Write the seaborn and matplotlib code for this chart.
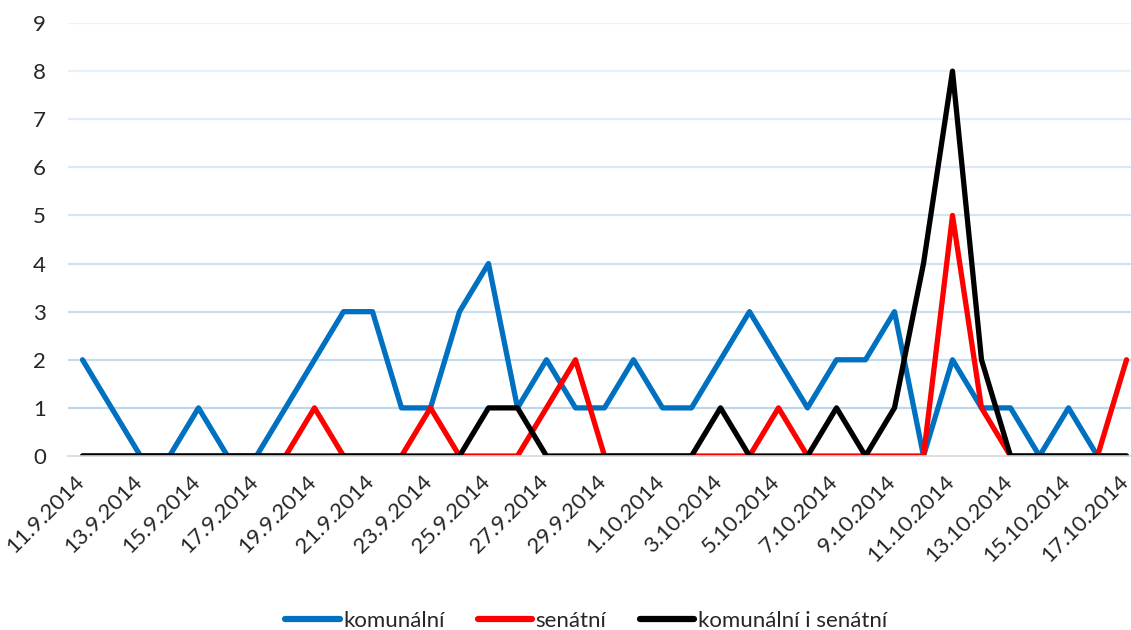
import matplotlib
matplotlib.use("Agg")

import numpy as np
import pandas as pd
import matplotlib.pyplot as plt
import matplotlib.transforms as mtransforms
import seaborn as sns
from matplotlib.ticker import FixedLocator

# ======================
# DATA
# ======================
dates = pd.date_range("2014-09-11", "2014-10-17", freq="D")
date_labels = [f"{d.day}.{d.month}.{d.year}" for d in dates]

komunalni = [2, 1, 0, 0, 1, 0, 0, 1, 2, 3, 3, 1, 1, 3, 4, 1, 2, 1, 1,
             2, 1, 1, 2, 3, 2, 1, 2, 2, 3, 0, 2, 1, 1, 0, 1, 0, 0]
senatni = [0, 0, 0, 0, 0, 0, 0, 0, 1, 0, 0, 0, 1, 0, 0, 0, 1, 2, 0,
           0, 0, 0, 0, 0, 1, 0, 0, 0, 0, 0, 5, 1, 0, 0, 0, 0, 2]
oboje = [0, 0, 0, 0, 0, 0, 0, 0, 0, 0, 0, 0, 0, 0, 1, 1, 0, 0, 0,
         0, 0, 0, 1, 0, 0, 0, 1, 0, 1, 4, 8, 2, 0, 0, 0, 0, 0]

series_names = ["komunální", "senátní", "komunální i senátní"]
colors = ["#0070C0", "#FF0000", "#000000"]

df = pd.DataFrame({
    "idx": list(range(len(dates))) * 3,
    "value": komunalni + senatni + oboje,
    "serie": [n for n in series_names for _ in dates],
})

# ======================
# PLOT
# ======================
sns.set_style("white")
plt.rcParams["font.family"] = ["Lato", "DejaVu Sans"]

fig = plt.figure(figsize=(11.31, 6.30), dpi=100)
ax = fig.add_axes([68 / 1131, 174 / 630, 1073 / 1131, 433 / 630])

# gridlines, fading toward the top
c1 = np.array([0xBD, 0xD7, 0xEE]) / 255
c2 = np.array([0xEE, 0xF3, 0xF9]) / 255
for v in range(1, 10):
    t = (v - 1) / 8
    ax.axhline(v, color=c1 + (c2 - c1) * t, lw=1.6, zorder=0)

sns.lineplot(data=df, x="idx", y="value", hue="serie", hue_order=series_names,
             palette=colors, linewidth=3.8, ax=ax, legend=True,
             solid_capstyle="round", solid_joinstyle="round")

ax.set_xlim(-0.5, 36.5)
ax.set_ylim(0, 9)
ax.set_yticks(range(10))
ax.tick_params(axis="y", length=0, labelsize=16, pad=16)

major = list(range(0, len(dates), 2))
ax.set_xticks(major)
ax.set_xticklabels([date_labels[i] for i in major], rotation=45,
                   ha="right", va="center", rotation_mode="anchor", fontsize=16)
ax.tick_params(axis="x", which="major", length=0, pad=16)
shift = mtransforms.ScaledTranslation(-1.5 / 100, 0, fig.dpi_scale_trans)
for lab in ax.get_xticklabels():
    lab.set_transform(lab.get_transform() + shift)
ax.xaxis.set_minor_locator(FixedLocator([i - 0.5 for i in major] + [36.5]))
ax.tick_params(axis="x", which="minor", length=7, color="#D9D9D9", width=1.2)

for s in ["top", "right", "left"]:
    ax.spines[s].set_visible(False)
ax.spines["bottom"].set_color("#D9D9D9")
ax.spines["bottom"].set_linewidth(1.2)
ax.set_xlabel("")
ax.set_ylabel("")

handles, labels = ax.get_legend_handles_labels()
for h in handles:
    h.set_linewidth(4.5)
ax.legend(handles, labels, loc="center", bbox_to_anchor=(586 / 1131, 9 / 630),
          bbox_transform=fig.transFigure, ncol=3, frameon=False, fontsize=16,
          handlelength=2.45, handletextpad=0.15, columnspacing=1.5,
          borderaxespad=0.0, borderpad=0.0)

fig.savefig("out.png", dpi=100)
